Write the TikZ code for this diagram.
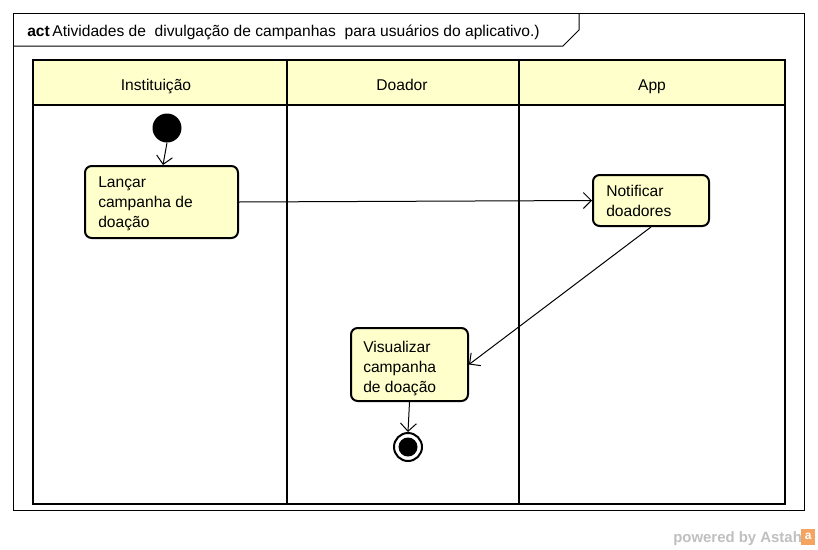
\documentclass[tikz,border=0pt]{standalone}
\usepackage{fontspec}
\setmainfont{Liberation Sans}
\usetikzlibrary{arrows.meta}
\definecolor{actfill}{HTML}{FFFFCC}
\definecolor{astahgray}{HTML}{BFBFBF}
\definecolor{astahorange}{HTML}{F4A460}
\begin{document}
\begin{tikzpicture}[x=0.75pt,y=-0.75pt,
  every node/.style={font=\fontsize{11.7}{15}\selectfont},
  actbox/.style={draw,line width=1.5pt,fill=actfill,rounded corners=5pt,anchor=north west,inner sep=0pt},
  txt/.style={anchor=base west,align=left,inner sep=0pt},
  flow/.style={draw,line width=0.75pt,-{Straight Barb[length=6pt,width=12pt,line width=0.75pt]}},
  lane/.style={draw,line width=1.5pt}]
\useasboundingbox (0,0) rectangle (818,550);
% frame
\draw[line width=0.75pt] (13,13) rectangle (804,510);
\draw[line width=0.75pt] (13,46) -- (563,46) -- (579,30) -- (579,13);
\node[txt] (title) at (27,36) {\textbf{act}\,Atividades de\ \ divulgação de campanhas\ \ para usuários do aplicativo.)};
% swimlanes
\draw[lane,fill=actfill] (33,60) rectangle (785,105);
\draw[lane] (33,60) rectangle (785,504);
\draw[lane] (287,60) -- (287,504);
\draw[lane] (519,60) -- (519,504);
\node[anchor=base,inner sep=0pt] (h1) at (156,90) {Instituição};
\node[anchor=base,inner sep=0pt] (h2) at (402,90) {Doador};
\node[anchor=base,inner sep=0pt] (h3) at (652,90) {App};
% initial
\node[circle,fill=black,minimum size=29pt*0.75,inner sep=0pt] (init) at (167,128) {};
% activities
\node[actbox,minimum width=153pt*0.75,minimum height=72pt*0.75] (lancar) at (84,165) {};
\node[txt] (lancart) at (98,227) {Lançar\\campanha de\\doação};
\node[actbox,minimum width=116pt*0.75,minimum height=51pt*0.75] (notif) at (592,174) {};
\node[txt] (notift) at (606,216) {Notificar\\doadores};
\node[actbox,minimum width=117pt*0.75,minimum height=73pt*0.75] (visu) at (350,327) {};
\node[txt] (visut) at (363,392) {Visualizar\\campanha\\de doação};
% final
\node[circle,draw,line width=1.5pt,fill=white,minimum size=28pt*0.75,inner sep=0pt] (final) at (408,447) {};
\node[circle,fill=black,minimum size=19pt*0.75,inner sep=0pt] (finalin) at (408,447) {};
% flows
\draw[flow] (init.south) -- (lancar.north -| 163,0);
\draw[flow] (lancar.east) -- (notif.west);
\draw[flow] (notif.south) -- (visu.east);
\draw[flow] (visu.south) -- (final.north);
% powered by
\node[anchor=base west,inner sep=0pt,text=astahgray,font=\fontsize{11.2}{12}\selectfont\bfseries] (pow) at (673,542) {powered by Astah};
\node[fill=astahorange,text=white,inner sep=0pt,minimum width=14pt*0.75,minimum height=16pt*0.75,anchor=south west,font=\fontsize{9}{9}\selectfont\bfseries] (logo) at (801,545) {a};
\end{tikzpicture}
\end{document}
